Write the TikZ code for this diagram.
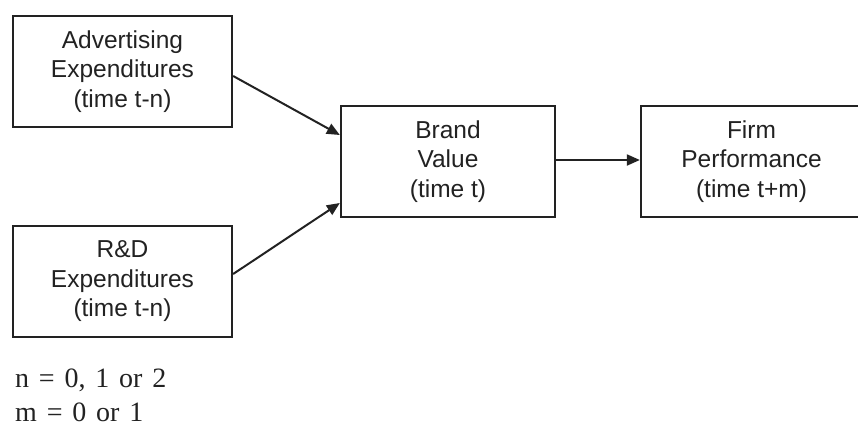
\documentclass[tikz,border=0pt]{standalone}
\usepackage{fontspec}
\setmainfont{Liberation Sans}
\newfontfamily\footserif[WordSpace=1.4]{Liberation Serif}
\usetikzlibrary{arrows.meta}
\definecolor{ink}{HTML}{222222}
\begin{document}
\begin{tikzpicture}[x=1pt,y=-1pt,
  box/.style={draw=ink, line width=2.3pt, fill=white, minimum width=219pt, minimum height=111pt,
    align=center, text=ink, inner sep=0pt,
    font=\fontsize{24.5}{29.5}\selectfont},
  conn/.style={draw=ink, line width=2pt, -{Triangle[length=13pt,width=11pt]}},
  note/.style={anchor=base west, inner sep=0pt, text=ink, font=\footserif\fontsize{28}{30}\selectfont}]
\useasboundingbox (0,0) rectangle (858,428);
\clip (0,0) rectangle (858,428);
\node[box] (adv) at (122.5,71.5) {Advertising\\Expenditures\\(time t-n)};
\node[box] (rd) at (122.5,281.5) {R\&D\\Expenditures\\(time t-n)};
\node[box, minimum width=214pt] (brand) at (448,161.5) {Brand\\Value\\(time t)};
\node[box, minimum width=221pt] (firm) at (751.5,161.5) {Firm\\Performance\\(time t+m)};
\draw[conn] ([yshift=-4.5pt]adv.east) -- ([yshift=26.5pt]brand.west);
\draw[conn] ([yshift=7.5pt]rd.east) -- ([yshift=-41.5pt]brand.west);
\draw[conn] ([yshift=1.5pt]brand.east) -- ([yshift=1.5pt]firm.west);
\node[note] (n) at (15,387) {n = 0, 1 or 2};
\node[note] (m) at (15,421) {m = 0 or 1};
\end{tikzpicture}
\end{document}
